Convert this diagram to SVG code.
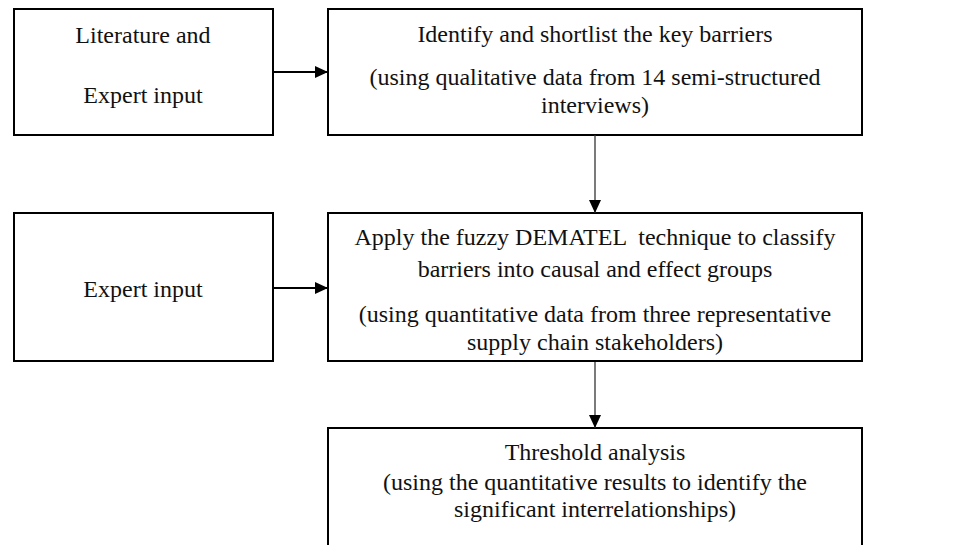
<svg xmlns="http://www.w3.org/2000/svg" width="979" height="545" viewBox="0 0 979 545">
<style>
.box{fill:#fff;stroke:#000;stroke-width:2}
.t{font-family:"Liberation Serif","Times New Roman",serif;font-size:24px;fill:#111;text-anchor:middle;white-space:pre}
.h{stroke:#000;stroke-width:2;fill:none}
.v{stroke:#333;stroke-width:1.3;fill:none}
</style>
<defs>
<marker id="ah" markerUnits="userSpaceOnUse" markerWidth="14" markerHeight="12" refX="13" refY="6" orient="auto">
<path d="M0,0 L13,6 L0,12 Z" fill="#000"/>
</marker>
</defs>
<rect width="979" height="545" fill="#fff"/>
<g id="lit">
<rect class="box" x="14" y="9" width="259" height="126"/>
<text class="t" x="143" y="43">Literature and</text>
<text class="t" x="143" y="103">Expert input</text>
</g>
<g id="identify">
<rect class="box" x="328" y="9" width="534" height="126"/>
<text class="t" x="595" y="42">Identify and shortlist the key barriers</text>
<text class="t" x="595" y="85">(using qualitative data from 14 semi-structured</text>
<text class="t" x="595" y="113">interviews)</text>
</g>
<g id="expert">
<rect class="box" x="14" y="213" width="259" height="148"/>
<text class="t" x="143" y="297">Expert input</text>
</g>
<g id="dematel">
<rect class="box" x="328" y="213" width="534" height="148"/>
<text class="t" x="595" y="245" xml:space="preserve">Apply the fuzzy DEMATEL  technique to classify</text>
<text class="t" x="595" y="277">barriers into causal and effect groups</text>
<text class="t" x="595" y="322">(using quantitative data from three representative</text>
<text class="t" x="595" y="350">supply chain stakeholders)</text>
</g>
<g id="threshold">
<rect class="box" x="328" y="428" width="534" height="130"/>
<text class="t" x="595" y="460">Threshold analysis</text>
<text class="t" x="595" y="490">(using the quantitative results to identify the</text>
<text class="t" x="595" y="517">significant interrelationships)</text>
</g>
<g id="connectors">
<line class="h" x1="273" y1="72" x2="328" y2="72" marker-end="url(#ah)"/>
<line class="h" x1="273" y1="288" x2="328" y2="288" marker-end="url(#ah)"/>
<line class="v" x1="595" y1="135" x2="595" y2="213" marker-end="url(#ah)"/>
<line class="v" x1="595" y1="362" x2="595" y2="428" marker-end="url(#ah)"/>
</g>
</svg>
